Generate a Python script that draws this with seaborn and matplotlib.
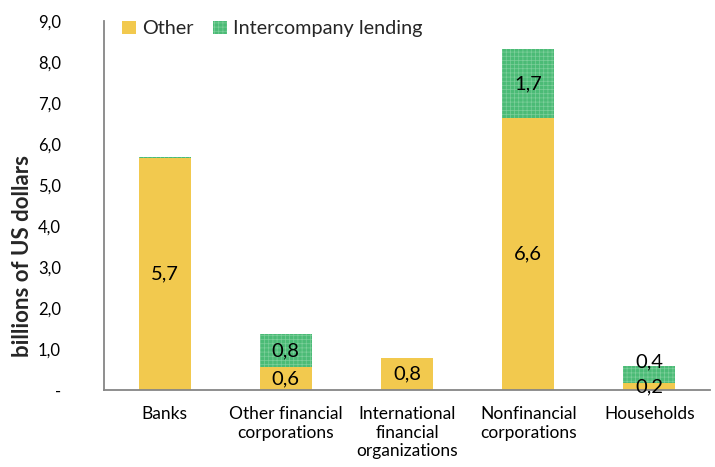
import matplotlib
matplotlib.use("Agg")
import matplotlib.pyplot as plt
from matplotlib.patches import Patch
from matplotlib.ticker import FixedLocator, FuncFormatter
import seaborn as sns
import pandas as pd

categories = ["Banks", "Other financial\ncorporations", "International\nfinancial\norganizations",
              "Nonfinancial\ncorporations", "Households"]
other = [5.67, 0.56, 0.77, 6.63, 0.16]
intercompany = [0.02, 0.81, 0.0, 1.68, 0.42]
yticks = [0, 1, 2, 3, 4, 5, 6, 7, 8, 9]

YELLOW = "#F2C94E"
GREEN = "#4BBB76"
GRID_GREEN = "#7CCF9B"
AXIS = "#868686"

sns.set_theme(style="white")
plt.rcParams["font.family"] = ["Lato", "DejaVu Sans"]
plt.rcParams["hatch.linewidth"] = 0.5

df = pd.DataFrame({"category": categories, "other": other, "intercompany": intercompany})
df["total"] = df["other"] + df["intercompany"]

fig = plt.figure(figsize=(7.15, 4.67), dpi=100)
ax = fig.add_axes([0.1455, 0.165, 0.8475, 0.790])

# stacked bars: total drawn first, "Other" layered on top of it
sns.barplot(data=df, x="category", y="total", color=GREEN, width=0.43,
            saturation=1, ax=ax, edgecolor=GRID_GREEN, linewidth=0, hatch="++++")
sns.barplot(data=df, x="category", y="other", color=YELLOW, width=0.43,
            saturation=1, ax=ax, linewidth=0)

ax.set_xlim(-0.5, 4.5)
ax.set_ylim(0, 9)
ax.yaxis.set_major_locator(FixedLocator(yticks))
ax.yaxis.set_major_formatter(FuncFormatter(
    lambda v, p: "-" if v == 0 else f"{v:.1f}".replace(".", ",")))

fmt = lambda v: f"{v:.1f}".replace(".", ",")
for i, (o, g) in enumerate(zip(other, intercompany)):
    if o >= 0.1:
        ax.text(i, o / 2, fmt(o), ha="center", va="center", fontsize=14.5, color="black")
    if g >= 0.1:
        y = o + g / 2
        if g < 0.5:
            y = o + g + 0.1
        ax.text(i, y, fmt(g), ha="center", va="center", fontsize=14.5, color="black")

for s in ["top", "right"]:
    ax.spines[s].set_visible(False)
for s in ["left", "bottom"]:
    ax.spines[s].set_color(AXIS)
    ax.spines[s].set_linewidth(1.3)

ax.set_xlabel("")
ax.set_ylabel("billions of US dollars", fontsize=16, fontweight="bold")
ax.yaxis.set_label_coords(-0.117, 0.363)
ax.tick_params(axis="y", which="major", direction="out", length=6, width=1.2,
               color=AXIS, labelsize=12, pad=25, labelcolor="black")
for lbl in ax.get_yticklabels():
    lbl.set_horizontalalignment("right")
ax.tick_params(axis="x", which="major", direction="inout", length=5, width=1.0,
               color="#9a9a9a", labelsize=12.5, pad=9, labelcolor="black")
ax.set_xticks([-0.5, 0.5, 1.5, 2.5, 3.5, 4.5], minor=True)
ax.tick_params(axis="x", which="minor", direction="out", length=6, width=1.2, color=AXIS)
ax.grid(False)

handles = [Patch(facecolor=YELLOW, edgecolor=YELLOW, linewidth=0),
           Patch(facecolor=GREEN, edgecolor=GRID_GREEN, linewidth=0, hatch="++++")]
ax.legend(handles, ["Other", "Intercompany lending"], loc="upper left",
          bbox_to_anchor=(0.0, 1.05), ncol=2, frameon=False, fontsize=14.3,
          handlelength=0.7, handleheight=0.7, handletextpad=0.3, columnspacing=1.0)

fig.savefig("out.png", dpi=100)
